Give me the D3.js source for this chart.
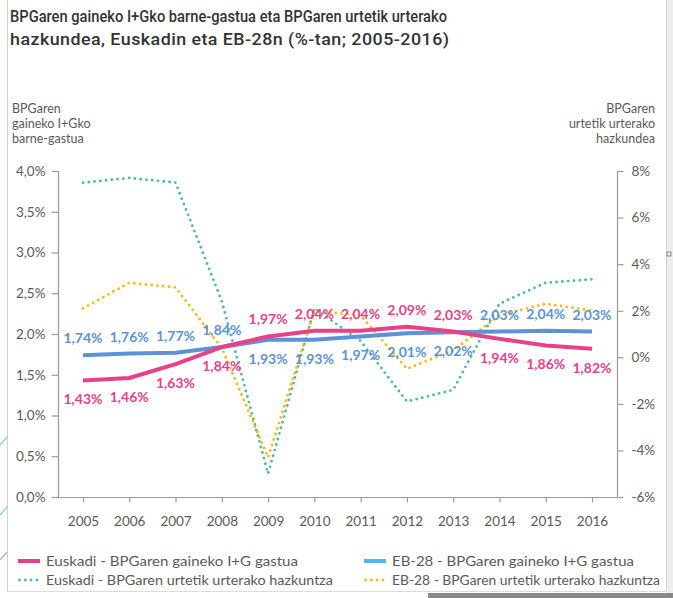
<!DOCTYPE html>
<html>
<head>
<meta charset="utf-8">
<script src="https://cdn.jsdelivr.net/npm/d3@7/dist/d3.min.js"></script>
<style>
  html, body { margin: 0; padding: 0; background: #ffffff; }
  svg { display: block; }
  text { font-family: Lato, "Open Sans", sans-serif; }
</style>
</head>
<body>
<svg id="chart" width="673" height="598"></svg>
<script>
// ---------- DATA ----------
const years = ["2005","2006","2007","2008","2009","2010","2011","2012","2013","2014","2015","2016"];
const euskadiRD = [1.43, 1.46, 1.63, 1.84, 1.97, 2.04, 2.04, 2.09, 2.03, 1.94, 1.86, 1.82];
const eu28RD    = [1.74, 1.76, 1.77, 1.84, 1.93, 1.93, 1.97, 2.01, 2.02, 2.03, 2.04, 2.03];
const euskadiGrowth = [7.5, 7.7, 7.5, 2.4, -5.0, 2.1, 0.7, -1.9, -1.4, 2.3, 3.2, 3.35];
const eu28Growth    = [2.1, 3.2, 3.0, 0.4, -4.3, 2.0, 1.8, -0.5, 0.3, 1.8, 2.3, 2.0];
const leftTicks  = [0, 0.5, 1, 1.5, 2, 2.5, 3, 3.5, 4];
const rightTicks = [-6, -4, -2, 0, 2, 4, 6, 8];
const titleLines = ["BPGaren gaineko I+Gko barne-gastua eta BPGaren urtetik urterako",
                    "hazkundea, Euskadin eta EB-28n (%-tan; 2005-2016)"];
const leftAxisTitle  = ["BPGaren", "gaineko I+Gko", "barne-gastua"];
const rightAxisTitle = ["BPGaren", "urtetik urterako", "hazkundea"];
const legendLabels = ["Euskadi - BPGaren gaineko I+G gastua",
                      "EB-28 - BPGaren gaineko I+G gastua",
                      "Euskadi - BPGaren urtetik urterako hazkuntza",
                      "EB-28 - BPGaren urtetik urterako hazkuntza"];

// ---------- SETUP ----------
const svg = d3.select("#chart");
const C = { pink: "#e8418a", blue: "#5b93d6", blueLeg: "#5ab3e6", teal: "#52b9a9", gold: "#f7b916",
            axis: "#9a9a9a", text: "#5a5a5a", title: "#333333" };
const locale = d3.formatLocale({ decimal: ",", thousands: ".", grouping: [3], currency: ["", "€"] });
const fmt1 = locale.format(".1f");
const fmt2 = locale.format(".2f");

// card / frame decorations
svg.append("rect").attr("x", 667).attr("y", 0).attr("width", 6).attr("height", 598).attr("fill", "#eeeeee");
svg.append("line").attr("x1", 7.5).attr("x2", 7.5).attr("y1", 0).attr("y2", 591).attr("stroke", "#d2d2d2");
svg.append("line").attr("x1", 666.5).attr("x2", 666.5).attr("y1", 0).attr("y2", 591).attr("stroke", "#d6d6d6");
svg.append("line").attr("x1", 7).attr("x2", 667).attr("y1", 591.5).attr("y2", 591.5).attr("stroke", "#dcdcdc");
svg.append("rect").attr("x", 428).attr("y", 593).attr("width", 245).attr("height", 5).attr("fill", "#8a8a8a");
svg.append("rect").attr("x", 667).attr("y", 252).attr("width", 4).attr("height", 4)
   .attr("fill", "none").attr("stroke", "#888");
[[445, 437, "#8cc8ea"], [515, 507, "#7fcfc0"], [560, 552, "#c2a5d8"]].forEach(d => {
  svg.append("line").attr("x1", 0).attr("y1", d[0]).attr("x2", 7).attr("y2", d[1])
     .attr("stroke", d[2]).attr("stroke-width", 1.2);
});

// title: line 1 squeezed to x 10..447; line 2 stretched to 10..449 partly by glyphs, partly by spacing
const titleEnds = [447, 449];
titleLines.forEach((t, i) => {
  const g = svg.append("g");
  const txt = g.append("text").attr("x", 0).attr("y", 22 + i * 23)
    .attr("font-size", 17).attr("font-weight", 500).attr("fill", C.title)
    .style("font-family", "Roboto, Lato, sans-serif")
    .text(t);
  const w = txt.node().getComputedTextLength();
  const target = titleEnds[i] - 10;
  let s = target / w;
  if (s > 1) s = Math.sqrt(s);
  g.attr("transform", `translate(10,0) scale(${s},1)`);
  txt.attr("textLength", target / s).attr("lengthAdjust", "spacing");
});

// axis titles
leftAxisTitle.forEach((t, i) => {
  svg.append("text").attr("x", 12).attr("y", 113 + i * 15)
    .attr("font-size", 12.5).attr("fill", C.text).text(t);
});
rightAxisTitle.forEach((t, i) => {
  svg.append("text").attr("x", 655).attr("y", 113 + i * 15).attr("text-anchor", "end")
    .attr("font-size", 12.5).attr("fill", C.text).text(t);
});

// scales
const x = d3.scalePoint().domain(years).range([58, 617]).padding(0.54);
const yL = d3.scaleLinear().domain([0, 4]).range([497, 171]);
const yR = d3.scaleLinear().domain([-6, 8]).range([497, 171]);

// axes
const gL = svg.append("g").attr("transform", "translate(58.5,0)")
  .call(d3.axisLeft(yL).tickValues(leftTicks).tickSize(7).tickPadding(6).tickFormat(d => fmt1(d) + "%"));
const gR = svg.append("g").attr("transform", "translate(617.5,0)")
  .call(d3.axisRight(yR).tickValues(rightTicks).tickSize(6).tickPadding(8).tickFormat(d => d + "%"));
const gB = svg.append("g").attr("transform", "translate(0,497.5)")
  .call(d3.axisBottom(x).tickSize(5).tickSizeOuter(0).tickPadding(14));
[gL, gR, gB].forEach(g => {
  g.selectAll("path.domain").attr("stroke", C.axis).attr("stroke-width", 1.2);
  g.selectAll(".tick line").attr("stroke", C.axis).attr("stroke-width", 1.2);
  g.selectAll(".tick text").attr("fill", C.text).attr("font-size", 13.5)
    .style("font-family", "Lato, sans-serif");
});
gL.select("path.domain").attr("d", "M0,171V497");
gR.select("path.domain").attr("d", "M0,171V497");
gB.select("path.domain").attr("d", "M58,0H617");

// lines
const lineL = d3.line().x((d, i) => x(years[i])).y(d => yL(d));
const lineR = d3.line().x((d, i) => x(years[i])).y(d => yR(d));

function dotted(data, color) {
  svg.append("path").datum(data).attr("d", lineR).attr("fill", "none")
    .attr("stroke", color).attr("stroke-width", 2.9).attr("stroke-linecap", "round")
    .attr("stroke-dasharray", "0 5.8");
}
dotted(euskadiGrowth, C.teal);
dotted(eu28Growth, C.gold);

svg.append("path").datum(eu28RD).attr("d", lineL).attr("fill", "none")
  .attr("stroke", C.blue).attr("stroke-width", 4).attr("stroke-linejoin", "round");
svg.append("path").datum(euskadiRD).attr("d", lineL).attr("fill", "none")
  .attr("stroke", C.pink).attr("stroke-width", 4).attr("stroke-linejoin", "round");

// data labels
function labels(data, color, aboveFn) {
  svg.append("g").selectAll("text").data(data).join("text")
    .attr("x", (d, i) => x(years[i]))
    .attr("y", (d, i) => yL(d) + (aboveFn(i) ? -12 : 24))
    .attr("text-anchor", "middle").attr("font-size", 14).attr("font-weight", 700)
    .attr("fill", color).text(d => fmt2(d) + "%");
}
const mid = i => i >= 4 && i <= 8;
labels(eu28RD, C.blue, i => !mid(i));
labels(euskadiRD, C.pink, i => mid(i));

// legend
const legend = [
  { x: 18, y: 561, color: C.pink, dot: false, end: 298 },
  { x: 364, y: 561, color: C.blueLeg, dot: false, end: 634 },
  { x: 18, y: 580, color: C.teal, dot: true, end: 333 },
  { x: 364, y: 580, color: C.gold, dot: true, end: 660 }
];
legend.forEach((L, i) => {
  const g = svg.append("g");
  g.append("line").attr("x1", L.x + (L.dot ? 1.5 : 0)).attr("x2", L.x + 22).attr("y1", L.y).attr("y2", L.y)
    .attr("stroke", L.color)
    .attr("stroke-width", L.dot ? 2.9 : 4)
    .attr("stroke-linecap", L.dot ? "round" : "butt")
    .attr("stroke-dasharray", L.dot ? "0 5.8" : null);
  const tx = L.x + 28;
  g.append("text").attr("x", tx).attr("y", L.y + 4.5).attr("font-size", 12.5).attr("fill", C.text)
    .attr("textLength", L.end - tx).attr("lengthAdjust", "spacingAndGlyphs")
    .text(legendLabels[i]);
});
</script>
</body>
</html>
